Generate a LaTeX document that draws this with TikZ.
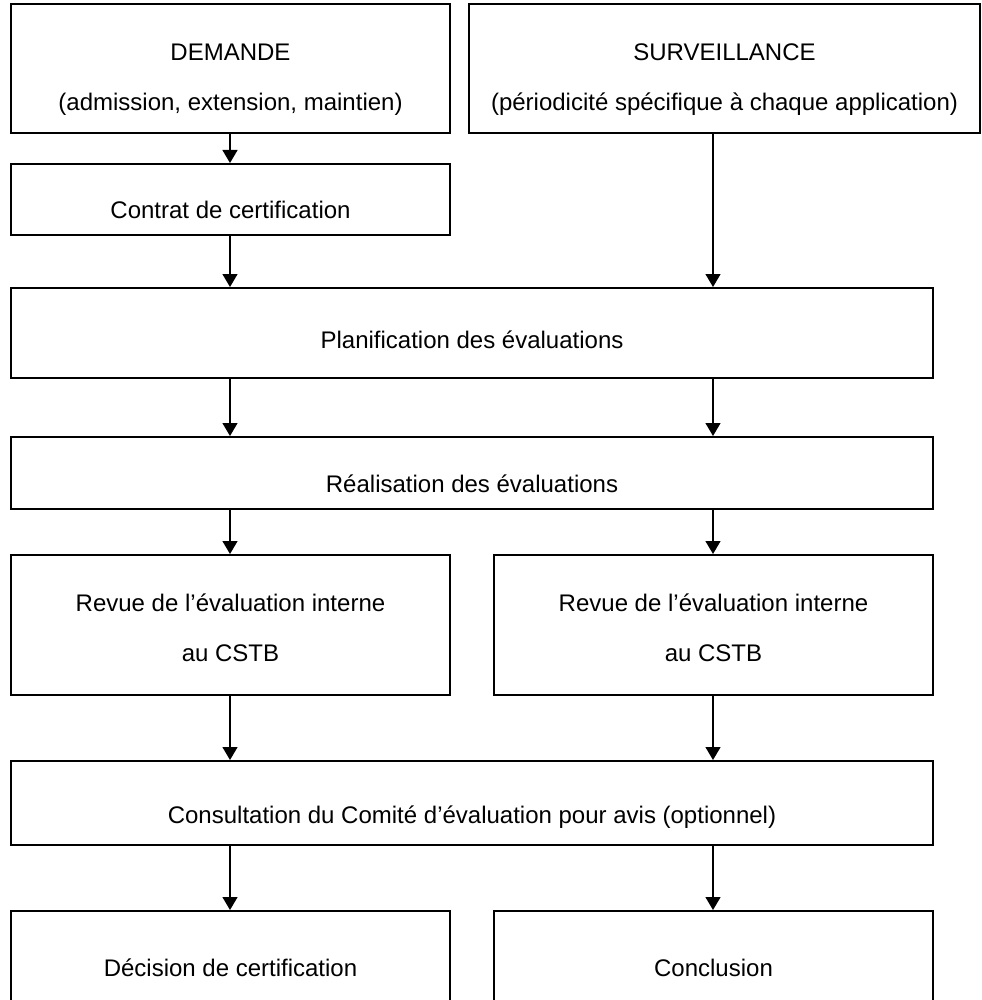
\documentclass[tikz,border=0pt]{standalone}
\usepackage{fontspec}
\setmainfont{Liberation Sans}
\usetikzlibrary{arrows.meta}
\tikzset{
  >={Triangle[width=7.5pt,length=6.5pt]},
  box/.style={draw, line width=1pt, inner sep=0pt},
  txt/.style={font=\fontsize{12}{25}\selectfont, align=center, inner sep=0pt},
  flow/.style={->, line width=.65pt},
}

\begin{document}
\begin{tikzpicture}[x=0.5pt, y=-0.5pt]
    \useasboundingbox (0,0) rectangle (981,1000);
    \clip (0,0) rectangle (981,1000);
    % boxes
    \node[box, minimum width=219.5pt, minimum height=64.5pt] (dem) at (230.5,68.5) {};
    \node[box, minimum width=255.5pt, minimum height=64.5pt] (surv) at (724.5,68.5) {};
    \node[box, minimum width=219.5pt, minimum height=35.5pt] (con) at (230.5,199.5) {};
    \node[box, minimum width=461pt, minimum height=45pt] (plan) at (472,333) {};
    \node[box, minimum width=461pt, minimum height=36pt] (real) at (472,473) {};
    \node[box, minimum width=219.5pt, minimum height=70pt] (rev1) at (230.5,625) {};
    \node[box, minimum width=219.5pt, minimum height=70pt] (rev2) at (713.5,625) {};
    \node[box, minimum width=461pt, minimum height=42pt] (cons) at (472,803) {};
    \node[box, minimum width=219.5pt, minimum height=74.5pt] (dec) at (230.5,985.5) {};
    \node[box, minimum width=219.5pt, minimum height=74.5pt] (concl) at (713.5,985.5) {};
    % texts
    \node[txt] (demtxt) at (230.5,80) {DEMANDE\\(admission, extension, maintien)};
    \node[txt] (survtxt) at (724.5,80) {SURVEILLANCE\\(périodicité spécifique à chaque application)};
    \node[txt] (contxt) at (230.5,210) {Contrat de certification};
    \node[txt] (plantxt) at (472,340) {Planification des évaluations};
    \node[txt] (realtxt) at (472,484) {Réalisation des évaluations};
    \node[txt] (rev1txt) at (230.5,628) {Revue de l’évaluation interne\\au CSTB};
    \node[txt] (rev2txt) at (713.5,628) {Revue de l’évaluation interne\\au CSTB};
    \node[txt] (constxt) at (472,817) {Consultation du Comité d’évaluation pour avis (optionnel)};
    \node[txt] (dectxt) at (230.5,968) {Décision de certification};
    \node[txt] (concltxt) at (713.5,968) {Conclusion};
    % arrows
    \coordinate (lx) at (230,0);
    \coordinate (rx) at (713,0);
    \foreach \a/\b in {dem/con, con/plan, plan/real, real/rev1, rev1/cons, cons/dec}
      \draw[flow] (\a.south -| lx) -- (\b.north -| lx);
    \foreach \a/\b in {surv/plan, plan/real, real/rev2, rev2/cons, cons/concl}
      \draw[flow] (\a.south -| rx) -- (\b.north -| rx);
\end{tikzpicture}
\end{document}
